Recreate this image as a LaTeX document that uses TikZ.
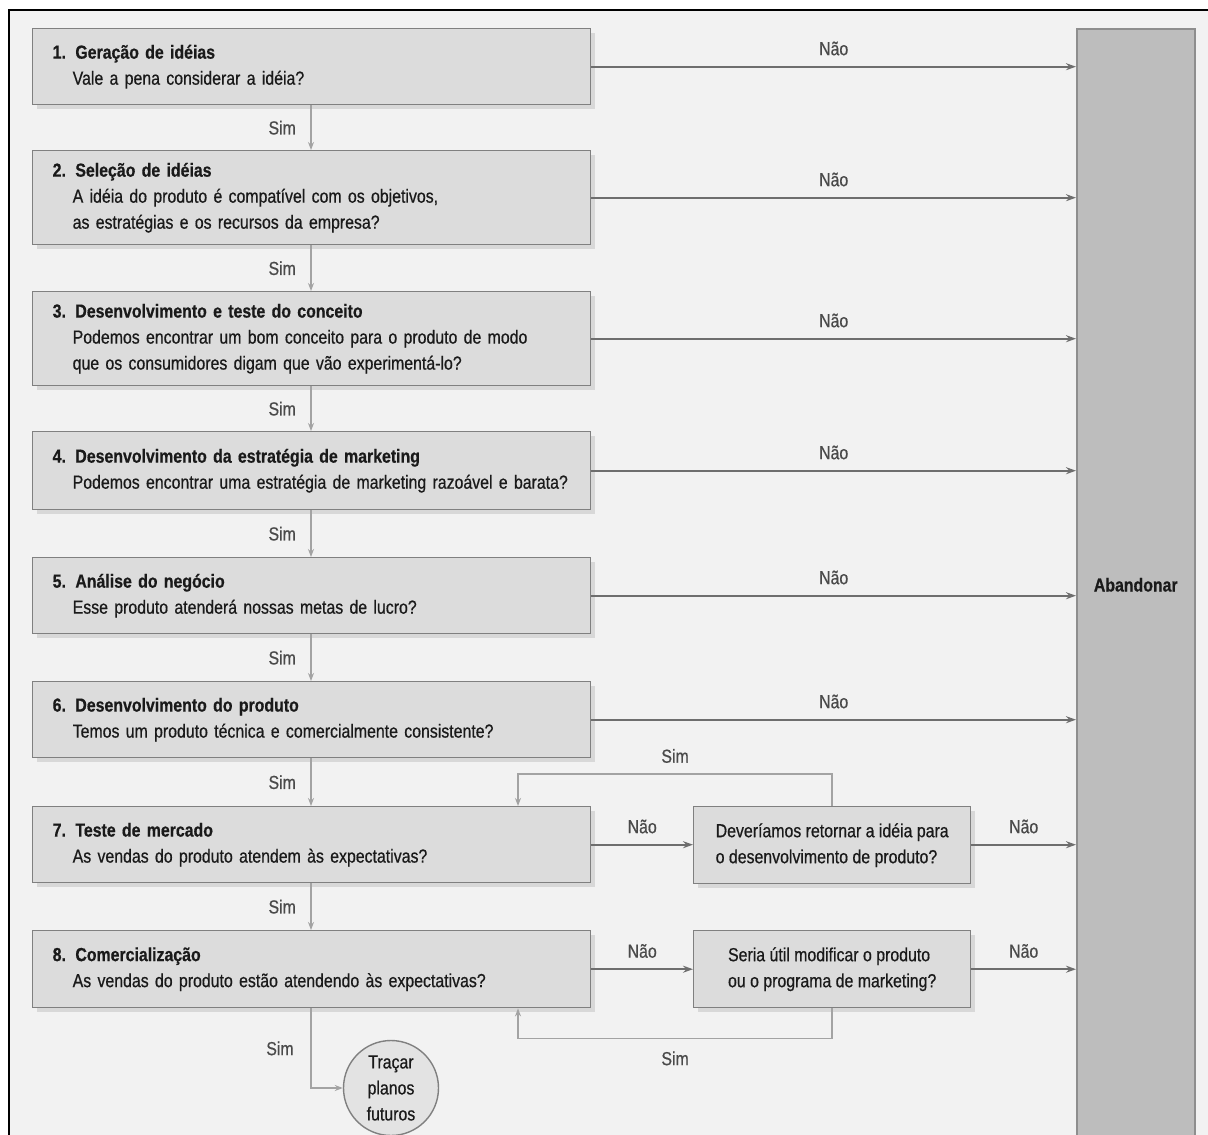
\documentclass[tikz,border=0pt]{standalone}
\usepackage{fontspec}
\setmainfont{Liberation Sans}[FakeStretch=0.84, FakeBold=0.6]
\usetikzlibrary{arrows.meta,shadows,calc}
\definecolor{bg}{HTML}{F2F2F2}
\definecolor{boxfill}{HTML}{DCDCDC}
\definecolor{boxline}{HTML}{808080}
\definecolor{arrowc}{HTML}{6E6E6E}
\definecolor{simc}{HTML}{A3A3A3}
\definecolor{barfill}{HTML}{BDBDBD}
\definecolor{barline}{HTML}{8E8E8E}
\definecolor{txt}{HTML}{1A1A1A}
\definecolor{labc}{HTML}{4A4A4A}
\begin{document}
\begin{tikzpicture}[x=1pt,y=-1pt,
  font=\fontsize{18.9}{26}\selectfont,
  stage/.style={draw=boxline, fill=boxfill, line width=1.4pt, anchor=north west,
    text width=518pt, inner xsep=20pt, inner ysep=0pt, align=left, text=txt,
    drop shadow={shadow xshift=4pt, shadow yshift=-4pt, fill=black!25, opacity=0.5}},
  sidebox/.style={draw=boxline, fill=boxfill, line width=1.4pt, anchor=north west,
    minimum width=277pt, minimum height=77pt, inner sep=0pt, align=left, text=txt,
    drop shadow={shadow xshift=4pt, shadow yshift=-4pt, fill=black!25, opacity=0.5}},
  nao/.style={draw=arrowc, line width=2pt, -{Stealth[length=10pt,width=7pt]}},
  simarrow/.style={draw=simc, line width=1.5pt, -{Stealth[length=8pt,width=6pt]}},
  lab/.style={text=labc, font=\fontsize{18.9}{22}\selectfont},
]
\useasboundingbox (0,0) rectangle (1208,1135);
\fill[white] (0,0) rectangle (1208,1135);
\fill[bg] (9,10) rectangle (1208,1135);
\draw[black, line width=2.6pt] (9,1140) -- (9,10) -- (1210,10);

% Abandonar bar
\node[draw=barline, fill=barfill, line width=1.5pt, anchor=north west,
  minimum width=118pt, minimum height=1112pt, inner sep=0pt, text=txt,
  font=\fontsize{18.9}{22}\selectfont\bfseries] (ab) at (1076,28) {Abandonar};

\coordinate (spine) at (311,0);
\coordinate (loopx) at (518,0);

\node[stage, minimum height=76pt] (b1) at (32,28)
  {\textbf{1. Geração de idéias}\\\hspace*{20pt}Vale a pena considerar a idéia?};
\node[stage, minimum height=94pt] (b2) at (32,150)
  {\textbf{2. Seleção de idéias}\\\hspace*{20pt}A idéia do produto é compatível com os objetivos,\\\hspace*{20pt}as estratégias e os recursos da empresa?};
\node[stage, minimum height=94pt] (b3) at (32,291)
  {\textbf{3. Desenvolvimento e teste do conceito}\\\hspace*{20pt}Podemos encontrar um bom conceito para o produto de modo\\\hspace*{20pt}que os consumidores digam que vão experimentá-lo?};
\node[stage, minimum height=78pt] (b4) at (32,431)
  {\textbf{4. Desenvolvimento da estratégia de marketing}\\\hspace*{20pt}Podemos encontrar uma estratégia de marketing razoável e barata?};
\node[stage, minimum height=76pt] (b5) at (32,557)
  {\textbf{5. Análise do negócio}\\\hspace*{20pt}Esse produto atenderá nossas metas de lucro?};
\node[stage, minimum height=76pt] (b6) at (32,681)
  {\textbf{6. Desenvolvimento do produto}\\\hspace*{20pt}Temos um produto técnica e comercialmente consistente?};
\node[stage, minimum height=76pt] (b7) at (32,806)
  {\textbf{7. Teste de mercado}\\\hspace*{20pt}As vendas do produto atendem às expectativas?};
\node[stage, minimum height=77pt] (b8) at (32,930)
  {\textbf{8. Comercialização}\\\hspace*{20pt}As vendas do produto estão atendendo às expectativas?};

\node[sidebox] (s7) at (693,806) {Deveríamos retornar a idéia para\\o desenvolvimento de produto?};
\node[sidebox] (s8) at (693,930) {Seria útil modificar o produto\\ou o programa de marketing?};

\node[circle, draw=boxline, fill=boxfill!80!white, line width=1.4pt, minimum size=95pt,
  inner sep=0pt, align=center, text=txt] (circ) at (391,1088) {Traçar\\planos\\futuros};

% Não arrows to Abandonar
\foreach \b in {b1,b2,b3,b4,b5,b6} {
  \draw[nao] (\b.east) -- (\b.east -| ab.west) node[lab, midway, above=7pt] {Não};
}
\draw[nao] (b7.east) -- (s7.west |- b7.east) node[lab, midway, above=7pt] {Não};
\draw[nao] (s7.east |- b7.east) -- (ab.west |- b7.east) node[lab, midway, above=7pt] {Não};
\draw[nao] (b8.east) -- (s8.west |- b8.east) node[lab, midway, above=7pt] {Não};
\draw[nao] (s8.east |- b8.east) -- (ab.west |- b8.east) node[lab, midway, above=7pt] {Não};

% Sim arrows down the spine
\draw[simarrow] (b1.south -| spine) -- (b2.north -| spine) node[lab, midway, left=11pt] {Sim};
\draw[simarrow] (b2.south -| spine) -- (b3.north -| spine) node[lab, midway, left=11pt] {Sim};
\draw[simarrow] (b3.south -| spine) -- (b4.north -| spine) node[lab, midway, left=11pt] {Sim};
\draw[simarrow] (b4.south -| spine) -- (b5.north -| spine) node[lab, midway, left=11pt] {Sim};
\draw[simarrow] (b5.south -| spine) -- (b6.north -| spine) node[lab, midway, left=11pt] {Sim};
\draw[simarrow] (b6.south -| spine) -- (b7.north -| spine) node[lab, midway, left=11pt] {Sim};
\draw[simarrow] (b7.south -| spine) -- (b8.north -| spine) node[lab, midway, left=11pt] {Sim};

% Sim loops
\coordinate (t7) at ($(s7.north)+(0,-32)$);
\draw[simarrow] (s7.north) -- (t7) -- (t7 -| loopx) node[lab, midway, above=7pt] {Sim} -- (b7.north -| loopx);
\coordinate (t8) at ($(s8.south)+(0,30)$);
\draw[simarrow] (s8.south) -- (t8) -- (t8 -| loopx) node[lab, midway, below=9pt] {Sim} -- (b8.south -| loopx);

% Final Sim to circle
\draw[simarrow] (b8.south -| spine) |- (circ.west);
\node[lab] at ($(b8.south -| spine)+(-31,40)$) {Sim};
\end{tikzpicture}
\end{document}
